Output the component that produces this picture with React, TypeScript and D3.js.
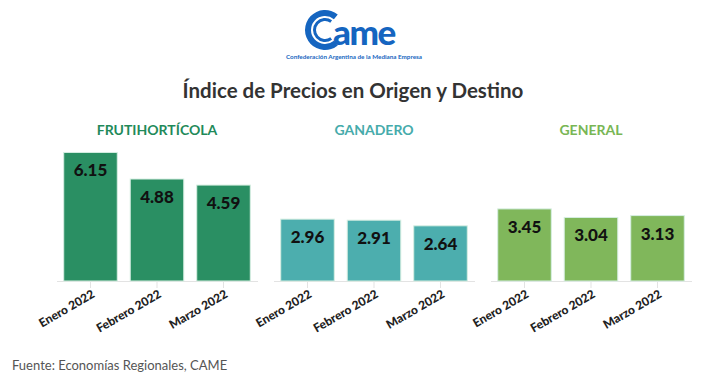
import React from "react";
import * as d3 from "d3";

const groups = ["FRUTIHORTÍCOLA", "GANADERO", "GENERAL"];
const months = ["Enero 2022", "Febrero 2022", "Marzo 2022"];
const frutihorticola = [6.15, 4.88, 4.59];
const ganadero = [2.96, 2.91, 2.64];
const general = [3.45, 3.04, 3.13];

const seriesValues = [frutihorticola, ganadero, general];
const barColors = ["#2a8f63", "#4caeae", "#80b75b"];
const titleColors = ["#1f8a5a", "#46abab", "#78b654"];

const W = 706;
const H = 374;
const base = 281;
const font = "Lato, 'Open Sans', sans-serif";

const App = () => {
  const outer = d3.scaleBand().domain(groups).range([58, 690]).paddingInner(0.0876);
  const inner = d3
    .scaleBand()
    .domain(months)
    .range([0, outer.bandwidth()])
    .paddingInner(0.195)
    .paddingOuter(0.086);
  const y = d3.scaleLinear().domain([0, 7]).range([base, base - 7 * 20.9]);

  // logo "C" rings
  const cArc = d3
    .arc()
    .innerRadius(14)
    .outerRadius(20)
    .startAngle(Math.PI * 0.78)
    .endAngle(Math.PI * 2.22);
  const cArc2 = d3
    .arc()
    .innerRadius(9)
    .outerRadius(12)
    .startAngle(Math.PI * 0.8)
    .endAngle(Math.PI * 2.2);

  return (
    <svg
      width={W}
      height={H}
      style={{ position: "absolute", left: 0, top: 0, background: "#fff" }}
      fontFamily={font}
    >
      {/* logo */}
      <g transform="translate(325,30)" fill="#1565c0">
        <path d={cArc({} as any) || ""} />
        <path d={cArc2({} as any) || ""} />
      </g>
      <text x={333} y={45} fontSize={35} fontWeight={900} fill="#1565c0" letterSpacing={-1.5}>
        ame
      </text>
      <text x={354} y={59} fontSize={6.3} fontWeight={700} fill="#1565c0" textAnchor="middle">
        Confederación Argentina de la Mediana Empresa
      </text>

      <text x={353} y={98} fontSize={20.5} fontWeight={700} fill="#333" textAnchor="middle">
        Índice de Precios en Origen y Destino
      </text>

      {groups.map((g, gi) => {
        const x0 = outer(g) as number;
        const bw = outer.bandwidth();
        return (
          <g key={g} transform={`translate(${x0},0)`}>
            <text
              x={bw / 2}
              y={135}
              fontSize={14}
              fontWeight={700}
              fill={titleColors[gi]}
              textAnchor="middle"
            >
              {g}
            </text>
            <line x1={-1} x2={bw + 2} y1={base + 0.5} y2={base + 0.5} stroke="#e3e3e3" />
            {months.map((m, mi) => {
              const v = seriesValues[gi][mi];
              const bx = inner(m) as number;
              const cx = bx + inner.bandwidth() / 2;
              return (
                <g key={m}>
                  <rect
                    x={bx}
                    y={y(v)}
                    width={inner.bandwidth()}
                    height={base - y(v)}
                    fill={barColors[gi]}
                    stroke="#d6eee2"
                    strokeWidth={1}
                  />
                  <text
                    x={cx}
                    y={y(v) + 24}
                    fontSize={17}
                    fontWeight={900}
                    fill="#111"
                    textAnchor="middle"
                  >
                    {v.toFixed(2)}
                  </text>
                  <line x1={cx} x2={cx} y1={base + 1} y2={base + 7} stroke="#e3e3e3" />
                  <text
                    transform={`translate(${cx + 3},${base + 12}) rotate(-30)`}
                    fontSize={12}
                    fontWeight={900}
                    fill="#222"
                    textAnchor="end"
                    dy="0.35em"
                  >
                    {m}
                  </text>
                </g>
              );
            })}
          </g>
        );
      })}

      <text x={12} y={370} fontSize={13} fill="#555">
        Fuente: Economías Regionales, CAME
      </text>
    </svg>
  );
};

export default App;
